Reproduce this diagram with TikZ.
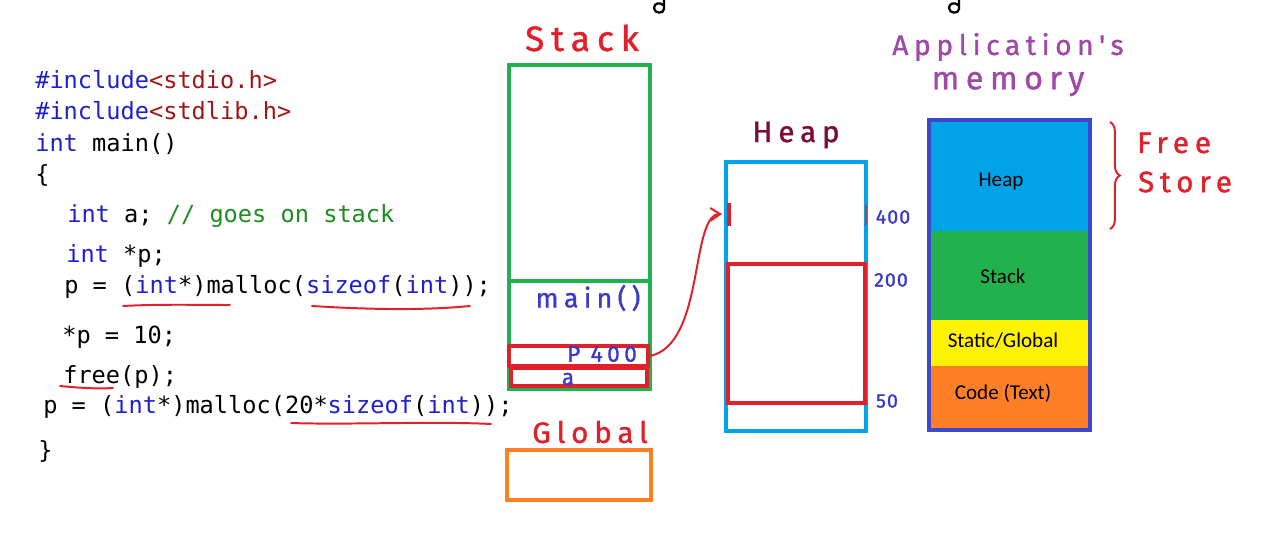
\documentclass[tikz,border=0pt]{standalone}
\usepackage{fontspec}
\setmonofont{DejaVu Sans Mono}
\newfontfamily\handfont[LetterSpace=20, FakeBold=1.2]{Fira Sans}
\newfontfamily\numfont[LetterSpace=5, FakeBold=1.2]{Fira Sans}
\newfontfamily\labelfont{Carlito}
\usepackage{tikz}
\usetikzlibrary{positioning, arrows.meta, calc, fit, decorations.pathreplacing}
\definecolor{kwBlue}{HTML}{1F1FD0}
\definecolor{strRed}{HTML}{A31515}
\definecolor{cmtGreen}{HTML}{1E8C1E}
\definecolor{inkRed}{HTML}{E0202A}
\definecolor{inkBlue}{HTML}{3A3AC8}
\definecolor{inkMaroon}{HTML}{7A1030}
\definecolor{inkPurple}{HTML}{A04AA8}
\definecolor{stackGreen}{HTML}{22B14C}
\definecolor{heapCyan}{HTML}{00A2E8}
\definecolor{globOrange}{HTML}{FF7F27}
\definecolor{statYellow}{HTML}{FFF200}
\definecolor{memBlue}{HTML}{3F48CC}
\newcommand{\kw}[1]{\textcolor{kwBlue}{#1}}

\begin{document}
\begin{tikzpicture}[
  x=0.025cm, y=-0.025cm,
  code/.style={anchor=base west, inner sep=0,
               font=\ttfamily\fontsize{16.8}{20}\selectfont},
  hand/.style={inner sep=0, font=\handfont\fontsize{#1}{#1}\selectfont},
  num/.style={inner sep=0, text=inkBlue, font=\numfont\fontsize{14}{14}\selectfont},
  box/.style={draw=#1, line width=2.5pt, inner sep=0},
  seg/.style={fill=#1, inner sep=0},
  seglabel/.style={inner sep=0, font=\labelfont\fontsize{15}{17}\selectfont},
  uline/.style={inkRed, line width=1.4pt, line cap=round},
  arr/.style={-{Straight Barb[length=7pt, width=9pt]}, line width=1.4pt, inkRed}
]
\useasboundingbox (0,0) rectangle (1280,538);

% code
\node[code] (inc1) at (35,89) {\kw{\#include}\textcolor{strRed}{<stdio.h>}};
\node[code] (inc2) at (35,120) {\kw{\#include}\textcolor{strRed}{<stdlib.h>}};
\node[code] (mainfn) at (35,151) {\kw{int} main()};
\node[code] (lbrace) at (35,183) {\{};
\node[code] (decla) at (67,222) {\kw{int} a; \textcolor{cmtGreen}{// goes on stack}};
\node[code] (declp) at (66,262) {\kw{int} *p;};
\node[code] (alloc1) at (64,293) {p = (\kw{int}*)malloc(\kw{sizeof}(\kw{int}));};
\node[code] (assign) at (62,343) {*p = 10;};
\node[code] (freep) at (63,383) {free(p);};
\node[code] (alloc2) at (43,413) {p = (\kw{int}*)malloc(20*\kw{sizeof}(\kw{int}));};
\node[code] (rbrace) at (38,458) {\}};

\draw[uline] (123,306) .. controls (160,304) and (200,305) .. (230,305);
\draw[uline] (312,306) .. controls (360,309) and (420,311) .. (470,306);
\draw[uline] (60,386) .. controls (80,388) and (100,389) .. (113,388);
\draw[uline] (291,423) .. controls (350,425) and (430,421) .. (491,424);

% stack
\node[hand=25, text=inkRed] (stackT) at (582,38) {Stack};
\node[box=stackGreen, fit={(509,65)(650,389)}] (stk) {};
\draw[stackGreen, line width=2.5pt] (stk.west |- 0,281) -- (stk.east |- 0,281);
\node[hand=19, text=inkBlue] (mainT) at (588,298) {main()};
\node[box=inkRed, fit={(509,346)(648,366)}] (pbox) {};
\node[box=inkRed, fit={(511,368)(647,386)}] (abox) {};
\node[hand=16, text=inkBlue] (pT) at (602,354) {P 400};
\node[hand=16, text=inkBlue] (aT) at (568,379) {a};

% global
\node[hand=21, text=inkRed] (globT) at (590,432) {Global};
\node[box=globOrange, fit={(507,450)(651,500)}] (glob) {};

% heap
\node[hand=21, text=inkMaroon] (heapT) at (796,135) {Heap};
\node[box=heapCyan, fit={(726,162)(866,431)}] (heap) {};
\node[box=inkRed, fit={(728,264)(865,403)}] (blk) {};
\draw[inkRed, line width=2.5pt] (729,203) -- (729,226);
\draw[inkRed!70!heapCyan, line width=1.2pt] (866,205) -- (866,225);
\coordinate (h400) at (722,214);
\node[num] (n400) at (893,217) {400};
\node[num] (n200) at (891,280) {200};
\node[num] (n50) at (887,401) {50};

\draw[arr] (pbox.east) .. controls (705,345) and (690,215) .. (h400);

% application's memory
\node[hand=20, text=inkPurple] (appT) at (1008,47) {Application's};
\node[hand=23, text=inkPurple] (memT) at (1008,84) {memory};
\node[seg=heapCyan, fit={(930,121)(1089,231)}] (mHeap) {};
\node[seg=stackGreen, fit={(930,231)(1089,320)}] (mStack) {};
\node[seg=statYellow, fit={(930,320)(1089,366)}] (mStat) {};
\node[seg=globOrange, fit={(930,366)(1089,429)}] (mCode) {};
\node[seglabel] at (1001,181) {Heap};
\node[seglabel] at (1003,276) {Stack};
\node[seglabel] at (1003,341) {Static/Global};
\node[seglabel] at (1003,393) {Code (Text)};
\node[draw=memBlue, line width=3.5pt, inner sep=0, fit={(929,120)(1090,430)}] (mem) {};

\draw[inkRed, line width=1.4pt, decorate,
      decoration={brace, amplitude=7pt}] (1110,122) -- (1110,229);
\node[hand=21, text=inkRed] (freeT) at (1174,143) {Free};
\node[hand=21, text=inkRed] (storeT) at (1185,182) {Store};

% cut-off marks at the top
\draw[line width=1.6pt] (664,0) -- (664,9) .. controls (664,14) and (654,14) .. (654,8)
  .. controls (654,3) and (660,2) .. (663,5);
\draw[line width=1.6pt] (959,0) -- (959,9) .. controls (959,14) and (949,14) .. (949,8)
  .. controls (949,3) and (955,2) .. (958,5);
\end{tikzpicture}
\end{document}
